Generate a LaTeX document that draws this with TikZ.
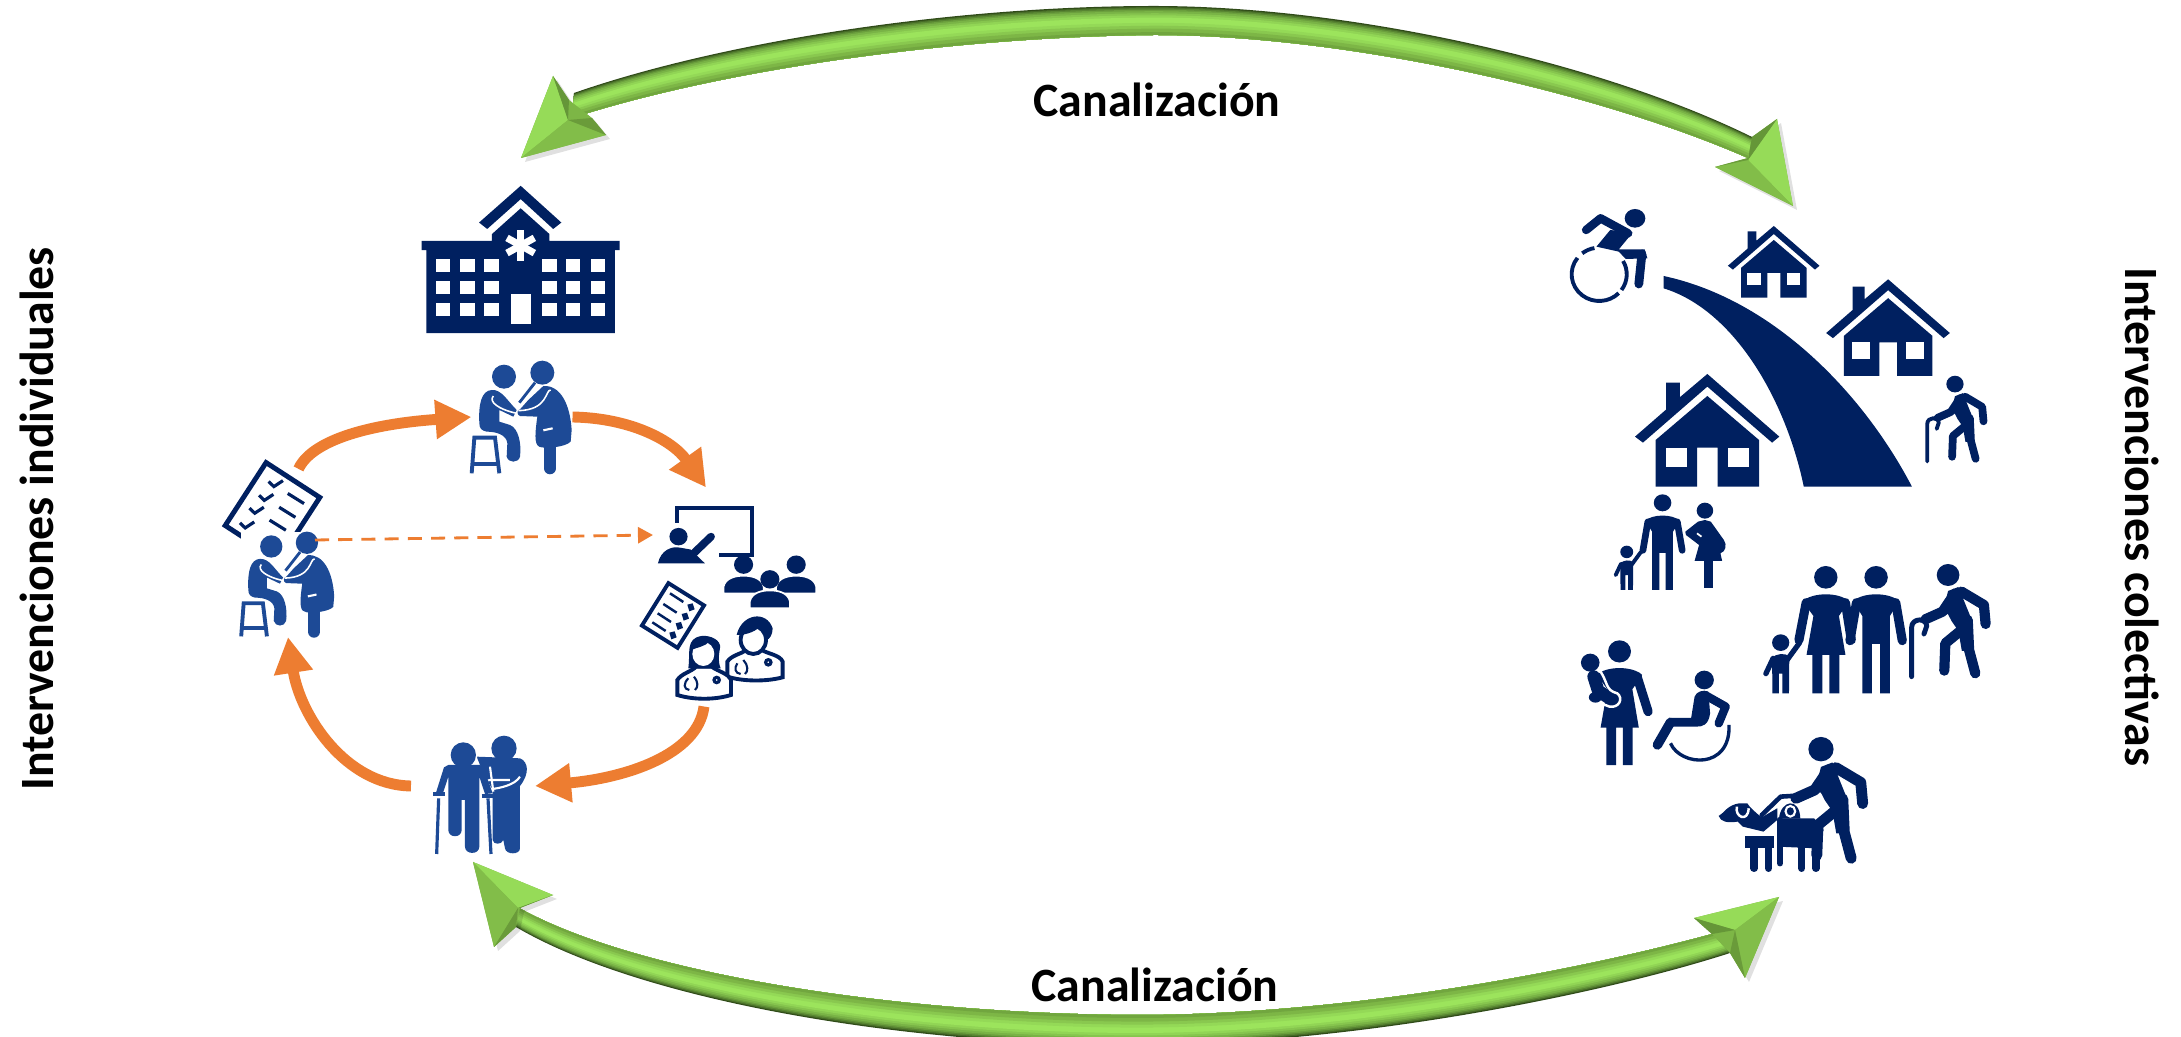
\documentclass[tikz,border=0pt]{standalone}
\usepackage{fontspec}
\setmainfont{Carlito}
\usetikzlibrary{arrows.meta, positioning, calc}
\definecolor{navyblue}{HTML}{002060}
\definecolor{docblue}{HTML}{1D4A96}
\definecolor{cycleorange}{HTML}{ED7D31}
\definecolor{gdark}{HTML}{2F4A18}
\definecolor{gmid}{HTML}{7DB646}
\definecolor{glight}{HTML}{9CE45C}

\tikzset{
  iconbox/.style={inner sep=0pt, outer sep=0pt},
  checkframe/.style={draw=navyblue, fill=white, line width=1.4pt, inner sep=0pt},
  limb/.style={draw=navyblue, line width=#1, line cap=round, line join=round},
  cyclearrow/.style={draw=cycleorange, line width=3.1pt, -{Triangle[length=.36cm,width=.37cm]}},
  dasharrow/.style={draw=cycleorange, line width=.8pt, dashed, dash pattern=on 4pt off 2.6pt, -{Triangle[length=.15cm,width=.16cm]}},
  sidelabel/.style={font=\fontsize{13.6}{13.6}\selectfont\bfseries, inner sep=0pt},
  canallabel/.style={font=\fontsize{13.6}{13.6}\selectfont\bfseries, inner sep=0pt},
  % icons, drawn in the units of their own crop
  pics/house/.style={code={
    \fill[navyblue] (0,0) -- (209,188) -- (188,206) -- (0,38) -- (-187,206) -- (-210,188) -- (-120,107) -- (-120,26) -- (-80,26) -- (-80,70) -- cycle;
    \fill[navyblue] (0,66) -- (150,198) -- (150,338) -- (30,338) -- (30,221) -- (-30,221) -- (-30,338) -- (-150,338) -- (-150,198) -- cycle;
    \fill[white] (-121,221) rectangle (-60,278);
    \fill[white] (60,221) rectangle (121,278);
  }},
  pics/manfig/.style={code={
    \fill[navyblue] (0,34) circle (34);
    \fill[navyblue] (-67,106) .. controls (-40,78) and (40,78) .. (67,106) -- (40,150) -- (40,382) -- (12,382) -- (12,234) -- (-12,234) -- (-12,382) -- (-40,382) -- (-40,150) -- cycle;
    \draw[limb=#1] (-57,110) -- (-76,224);
    \draw[limb=#1] (57,110) -- (76,224);
  }},
  pics/womanfig/.style={code={
    \fill[navyblue] (0,34) circle (34);
    \fill[navyblue] (-67,106) .. controls (-40,78) and (40,78) .. (67,106) -- (38,150) -- (57,267) -- (39,267) -- (39,382) -- (10,382) -- (10,267) -- (-10,267) -- (-10,382) -- (-39,382) -- (-39,267) -- (-56,267) -- (-36,150) -- cycle;
  }},
  pics/childfig/.style={code={
    \fill[navyblue] (0,25) circle (25);
    \fill[navyblue] (-25,72) .. controls (-15,56) and (15,56) .. (25,66) -- (24,177) -- (5,177) -- (5,118) -- (-5,118) -- (-5,177) -- (-24,177) -- cycle;
    \draw[limb=#1] (-22,72) -- (-43,118);
    \draw[limb=#1] (15,82) -- (55,25);
  }},
  pics/walkerfig/.style={code={
    \fill[navyblue] (0,32) circle (33);
    \fill[navyblue] (0,80) -- (30,68) -- (70,170) -- (72,260) -- (40,260) -- (30,200) -- (10,170) -- (0,150) -- (-15,142) -- cycle;
    \draw[limb=#1] (-66,165) -- (-16,142) -- (19,88);
    \draw[limb=#1] (39,82) -- (104,122) -- (109,179);
    \draw[limb=#1] (39,197) -- (-8,237) -- (-11,319);
    \draw[limb=#1] (57,167) -- (61,257) -- (79,327);
  }},
  pics/canefig/.style={code={
    \draw[limb=#1] (-106,337) -- (-106,190) .. controls (-106,160) and (-62,160) .. (-62,185) -- (-70,209);
  }},
  pics/doctorpair/.style={code={
    \begin{scope}[shift={(-186,-171)}]
      \fill[white] (33,3) rectangle (340,342);
      % patient and stool
      \fill[docblue] (132,50) circle (36);
      \fill[docblue] (58,190) .. controls (55,130) and (65,92) .. (95,90) .. controls (125,88) and (140,120) .. (170,150) -- (160,170) -- (118,150) -- (118,185) -- (150,195) .. controls (175,205) and (185,250) .. (180,290) .. controls (175,310) and (145,310) .. (140,290) -- (142,250) .. controls (140,225) and (110,215) .. (80,215) .. controls (65,212) and (58,205) .. (58,190) -- cycle;
      \draw[white, line width=.45pt] (100,108) .. controls (85,125) and (115,148) .. (170,160);
      \draw[docblue, line width=1.1pt] (35,340) -- (43,233) -- (105,233) -- (118,340);
      \draw[docblue, line width=1.1pt] (42,313) -- (110,313);
      % doctor
      \fill[docblue] (247,38) circle (36);
      \draw[docblue, line width=.8pt] (225,68) -- (178,128);
      \fill[docblue] (205,120) -- (250,78) .. controls (300,75) and (330,130) .. (335,210) -- (332,245) .. controls (315,262) and (260,265) .. (245,262) .. controls (225,260) and (222,240) .. (232,170) -- (180,168) .. controls (170,165) and (170,150) .. (180,148) -- cycle;
      \draw[docblue, line width=3.4pt, line cap=round] (270,262) -- (270,325);
      \draw[white, line width=.45pt] (272,90) .. controls (255,90) and (265,150) .. (175,152);
      \draw[white, line width=.6pt] (250,211) -- (278,205);
    \end{scope}
  }}
}

% bevelled green shaft between the two-part curves oa..of and ia..if
\newcommand{\bevelshaft}{
  \foreach \t/\c in {0/gdark, .04/glight!20!gdark, .08/glight!38!gdark, .13/glight!55!gdark, .18/glight!68!gdark, .25/glight!80!gdark, .32/glight!90!gdark, .4/glight, .58/glight!75!gmid, .68/glight!40!gmid, .78/gmid, .9/gmid!85!gdark} {
    \fill[fill=\c] ($(oa)!\t!(ia)$) .. controls ($(ob)!\t!(ib)$) and ($(oc)!\t!(ic)$) .. ($(om)!\t!(im)$) .. controls ($(od)!\t!(id)$) and ($(oe)!\t!(ie)$) .. ($(of)!\t!(if)$) -- (if) .. controls (ie) and (id) .. (im) .. controls (ic) and (ib) .. (ia) -- cycle;
  }
}
% bevelled head: tip, corner, notch, notch, corner, middle
\newcommand{\bevelhead}[6]{
  \fill[black, opacity=.12] ($#1+(4,4)$) -- ($#2+(4,4)$) -- ($#3+(4,4)$) -- ($#4+(4,4)$) -- ($#5+(4,4)$) -- cycle;
  \fill[gmid] #1 -- #2 -- #3 -- #4 -- #5 -- cycle;
  \fill[glight!80!gmid] #1 -- #2 -- #6 -- cycle;
  \fill[gmid!85!glight] #1 -- #5 -- #6 -- cycle;
  \fill[gmid!70!gdark] #2 -- #3 -- #6 -- cycle;
  \fill[gmid!75!gdark] #5 -- #4 -- #6 -- cycle;
}

\begin{document}
\begin{tikzpicture}[x=0.01cm, y=-0.01cm]
  \clip (0,0) rectangle (2181,1037);
  \fill[white] (0,0) rectangle (2181,1037);

  % Icon zones, the cycle runs through them
  \node[iconbox, minimum width=1.01cm, minimum height=1.13cm] (doctora) at (522,417) {};
  \node[iconbox, minimum width=.94cm, minimum height=1.06cm] (doctorb) at (288,584) {};
  \node[iconbox, minimum width=1.06cm, minimum height=.95cm] (teacher) at (706,535) {};
  \node[iconbox, minimum width=.57cm, minimum height=1.13cm] (staff) at (704,650) {};
  \node[iconbox, minimum width=1.24cm, minimum height=1.32cm] (elder) at (473,786) {};
  \coordinate (dashstart) at (315,540);

  % Hospital, first checklist, teacher and students (left crop)
  \begin{scope}[shift={(150,150)}, xscale=.4783, yscale=.4592]
    \fill[navyblue] (775,78) -- (860,158) -- (843,172) -- (775,107) -- (705,172) -- (688,158) -- cycle;
    \fill[navyblue] (578,218) -- (568,218) -- (568,198) -- (715,198) -- (715,183) -- (775,127) -- (835,183) -- (835,198) -- (982,198) -- (982,218) -- (972,218) -- (972,399) -- (578,399) -- cycle;
    \foreach \wx in {598,649,699,820,870,921} {
      \foreach \wy in {237,285,333} {
        \fill[white] (\wx,\wy) rectangle +(30,28);
      }
    }
    \fill[white] (755,313) rectangle (796,380);
    \foreach \a in {90,30,-30} {
      \draw[white, line width=2pt] (775,208) +(\a:33) -- +(\a+180:33);
    }
  \end{scope}

  \node[checkframe, minimum width=.64cm, minimum height=.75cm, rotate=-33] (checka) at (272.5,511.5) {};
  \begin{scope}[shift={(150,150)}, xscale=.4783, yscale=.4592]
    \foreach \cx/\cy in {248/722, 228/752, 208/780, 188/812} {
      \draw[navyblue, line width=.9pt] (\cx,\cy) -- +(11,11) -- +(30,-2);
    }
    \foreach \dx/\dy in {288/748, 270/778, 250/806} {
      \draw[navyblue, line width=.9pt] (\dx,\dy) -- +(34,22);
    }
    % teacher
    \draw[navyblue, line width=1.25pt] (1102,812) -- (1102,780) -- (1258,780) -- (1258,882) -- (1190,882);
    \fill[navyblue] (1105,842) circle (19);
    \fill[navyblue] (1062,900) .. controls (1068,872) and (1090,862) .. (1108,866) -- (1130,870) -- (1160,900) -- cycle;
    \draw[limb=2.2pt] (1130,885) -- (1173,842);
    % students
    \foreach \sx/\sy in {1241/903, 1351/903, 1296/935} {
      \fill[navyblue] (\sx,\sy) circle (20);
      \filldraw[fill=navyblue, draw=white, line width=.5pt] ({\sx-42},{\sy+63}) -- ({\sx-42},{\sy+48}) .. controls ({\sx-38},{\sy+28}) and ({\sx-15},{\sy+24}) .. (\sx,{\sy+24}) .. controls ({\sx+15},{\sy+24}) and ({\sx+38},{\sy+28}) .. ({\sx+42},{\sy+48}) -- ({\sx+42},{\sy+63}) -- cycle;
    }
  \end{scope}

  % Second checklist and the two physicians
  \node[checkframe, minimum width=.42cm, minimum height=.5cm, line width=1.1pt, rotate=-32] (checkb) at (673,615.5) {};
  \begin{scope}[shift={(620,560)}, scale=.3333]
    \foreach \lx/\ly/\qx/\qy in {150/100/212/142, 130/132/195/170, 113/160/177/198, 97/187/158/226} {
      \draw[navyblue, line width=.7pt] (\lx,\ly) -- +(40,26);
      \fill[navyblue] (\qx,\qy) +(-10,-8) -- +(6,-12) -- +(12,6) -- +(-4,12) -- cycle;
    }
    % man
    \filldraw[fill=white, draw=navyblue, line width=1.1pt] (322,350) -- (322,305) .. controls (335,285) and (365,282) .. (378,270) -- (425,270) .. controls (445,282) and (480,285) .. (488,305) -- (488,352) .. controls (440,365) and (370,365) .. (322,350) -- cycle;
    \filldraw[fill=white, draw=navyblue, line width=1.1pt] (400,240) ellipse (38 and 42);
    \fill[navyblue] (350,225) .. controls (365,160) and (440,150) .. (458,205) .. controls (458,225) and (448,238) .. (440,240) .. controls (438,215) and (425,205) .. (420,200) .. controls (400,220) and (370,225) .. (350,225) -- cycle;
    \draw[navyblue, line width=.6pt] (352,310) .. controls (342,325) and (345,340) .. (362,342);
    \draw[navyblue, line width=.6pt] (370,300) .. controls (385,315) and (385,335) .. (375,342);
    \filldraw[fill=white, draw=navyblue, line width=.9pt] (445,307) circle (8);
    % woman
    \filldraw[fill=white, draw=navyblue, line width=1.1pt] (172,405) -- (172,360) .. controls (185,340) and (215,335) .. (228,320) -- (275,320) .. controls (295,335) and (325,340) .. (333,360) -- (333,405) .. controls (285,420) and (220,420) .. (172,405) -- cycle;
    \fill[navyblue] (205,325) .. controls (212,280) and (195,235) .. (245,228) .. controls (270,225) and (305,240) .. (300,265) .. controls (295,290) and (295,310) .. (302,325) -- cycle;
    \fill[white] (250,282) ellipse (33 and 36);
    \fill[navyblue] (215,270) .. controls (230,262) and (255,260) .. (268,245) -- (245,235) -- (222,245) -- cycle;
    \draw[navyblue, line width=.6pt] (205,355) .. controls (190,370) and (190,388) .. (208,390);
    \draw[navyblue, line width=.6pt] (222,350) .. controls (235,365) and (235,382) .. (225,390);
    \filldraw[fill=white, draw=navyblue, line width=.9pt] (290,360) circle (8);
  \end{scope}

  % The doctor with the patient, twice
  \pic[scale=.3333] at (doctora.center) {doctorpair};
  \pic[scale=.31] at (doctorb.center) {doctorpair};

  % Old man and his helper
  \begin{scope}[shift={(420,730)}, scale=.3333]
    \fill[docblue] (252,55) circle (38);
    \fill[docblue] (170,80) -- (300,85) .. controls (325,95) and (330,130) .. (300,168) -- (300,355) .. controls (300,375) and (258,375) .. (255,355) -- (250,330) .. controls (245,345) and (220,345) .. (218,330) -- (218,180) -- (190,130) -- cycle;
    \draw[white, line width=.6pt] (300,140) .. controls (285,165) and (240,175) .. (208,178) .. controls (198,160) and (195,150) .. (210,150) -- (270,150);
    \fill[white] (130,75) circle (42);
    \fill[docblue] (130,75) circle (38);
    \draw[white, line width=.6pt] (210,110) -- (220,185);
    \fill[docblue] (85,105) -- (180,105) -- (190,112) -- (218,190) -- (195,192) -- (178,140) -- (178,350) .. controls (178,375) and (135,375) .. (135,350) -- (135,210) -- (125,210) -- (125,300) .. controls (125,325) and (85,325) .. (85,300) -- (85,140) -- (68,192) -- (48,188) -- (72,112) -- cycle;
    \draw[docblue, line width=.9pt] (40,192) -- (76,192);
    \draw[docblue, line width=.9pt] (185,198) -- (222,198);
    \draw[docblue, line width=.9pt] (56,205) -- (50,372);
    \draw[docblue, line width=.9pt] (204,205) -- (213,372);
  \end{scope}

  % Upper crop on the right: houses, road, wheelchair, old man with cane
  \begin{scope}[shift={(1500,180)}, xscale=.3444, yscale=.3333, transform shape]
    \pic[scale=1] at (602,582) {house};
    \pic[scale=.857] at (1127,298) {house};
    \pic[scale=.635] at (795,138) {house};
    \fill[navyblue] (475,288) -- (475,325) .. controls (680,390) and (830,660) .. (882,920) -- (1196,920) .. controls (1060,650) and (800,360) .. (475,288) -- cycle;
    \fill[navyblue] (392,115) ellipse (30 and 28);
    \draw[limb=2.4pt] (250,150) -- (292,115) -- (372,160);
    \fill[navyblue] (320,150) -- (385,158) -- (345,208) -- (420,208) -- (428,235) -- (365,237) -- (345,215) -- (280,200) -- cycle;
    \draw[limb=2.5pt] (412,222) -- (403,312);
    \draw[navyblue, line width=1.1pt] (288,283) ++(218:80) arc[start angle=218, end angle=45, radius=80];
    \draw[navyblue, line width=1.1pt] (288,283) ++(232:80) arc[start angle=232, end angle=260, radius=80];
    \draw[navyblue, line width=1.1pt] (288,283) ++(-30:80) arc[start angle=-30, end angle=36, radius=80];
    \pic[scale=.76] at (1321,588) {walkerfig=2.2pt};
    \pic[scale=.76] at (1321,588) {canefig=1.1pt};
  \end{scope}

  % Lower crop on the right: families and guide dog
  \begin{scope}[shift={(1500,480)}, xscale=.3444, yscale=.3333, transform shape]
    % small family
    \pic[scale=.75] at (472,43) {manfig=1.9pt};
    \pic[scale=.75] at (368,197) {childfig=1.1pt};
    \fill[navyblue] (595,92) circle (24);
    \fill[navyblue] (595,120) -- (612,125) -- (650,180) .. controls (660,195) and (655,215) .. (640,220) -- (645,243) -- (565,243) -- (578,195) -- (540,165) -- (538,155) -- (575,125) -- cycle;
    \draw[white, line width=.5pt] (572,160) -- (585,170);
    \fill[navyblue] (593,243) rectangle (617,325);
    % large family
    \pic[scale=1] at (946,258) {womanfig};
    \draw[limb=2.6pt] (889,368) -- (868,480);
    \draw[limb=2.6pt] (1003,368) -- (1020,480);
    \pic[scale=1] at (1092,258) {manfig=2.6pt};
    \pic[scale=1] at (815,463) {childfig=1.5pt};
    \pic[scale=1] at (1301,253) {walkerfig=2.9pt};
    \pic[scale=1] at (1301,253) {canefig=1.4pt};
    % mother with a baby on her back
    \pic[scale=.98] at (347,481) {womanfig};
    \draw[limb=2.6pt] (398,590) -- (430,695);
    \fill[navyblue] (262,548) circle (27);
    \draw[limb=3.6pt] (272,590) -- (285,632) -- (325,660);
    \fill[navyblue] (277,652) ellipse (19 and 16);
    \draw[white, line width=.7pt] (290,572) .. controls (315,610) and (305,630) .. (340,640) .. controls (360,655) and (345,685) .. (318,680) -- (298,672);
    % wheelchair
    \fill[navyblue] (593,600) circle (28);
    \fill[navyblue] (565,650) .. controls (570,635) and (590,628) .. (605,635) -- (610,700) .. controls (605,735) and (590,740) .. (570,740) -- (495,740) -- (495,714) -- (555,714) -- cycle;
    \draw[limb=2.7pt] (495,727) -- (457,795);
    \draw[limb=2.4pt] (595,645) -- (655,680) -- (635,730);
    \draw[navyblue, line width=.95pt] (495,790) .. controls (525,860) and (670,870) .. (665,735);
    % blind man and guide dog
    \pic[scale=1.11] at (932,772) {walkerfig=3.1pt};
    \draw[limb=1.3pt] (760,1005) -- (815,950) -- (895,945);
    \fill[navyblue] (635,1008) .. controls (650,1000) and (660,975) .. (695,970) -- (718,970) -- (725,980) -- (745,1000) -- (760,1012) -- (805,985) -- (805,1020) -- (765,1055) -- (705,1040) -- (690,1025) .. controls (660,1030) and (640,1025) .. (635,1008) -- cycle;
    \draw[white, line width=.7pt] (688,980) .. controls (680,1010) and (720,1030) .. (722,985);
    \fill[navyblue] (712,1068) -- (795,1068) -- (795,1105) -- (712,1105) -- cycle;
    \fill[navyblue] (805,1015) -- (912,1015) -- (940,1050) -- (915,1105) -- (805,1100) -- cycle;
    \foreach \lx in {738,780,876,917} {
      \draw[limb=2.1pt] (\lx,1095) -- (\lx,1165);
    }
    \draw[limb=1.8pt] (813,1020) -- (813,1150);
    \fill[navyblue] (810,1016) .. controls (815,960) and (870,950) .. (872,1016) -- cycle;
    \draw[white, line width=.6pt] (843,994) ellipse (14 and 16);
  \end{scope}

  % Orange cycle
  \draw[cyclearrow, shorten <=.1cm] (checka.north) .. controls (312,440) and (370,424) .. (doctora.west);
  \draw[cyclearrow] (doctora.east) .. controls (630,418) and (672,440) .. (teacher.north);
  \draw[cyclearrow] (staff.south) .. controls (698,755) and (625,778) .. (elder.east);
  \draw[cyclearrow] (elder.west) .. controls (345,785) and (300,715) .. (doctorb.south);
  \draw[dasharrow] (dashstart) -- (teacher.west);

  % Upper green arrow
  \coordinate (oa) at (574,93); \coordinate (ob) at (720,42); \coordinate (oc) at (950,6); \coordinate (om) at (1154,6);
  \coordinate (od) at (1350,6); \coordinate (oe) at (1600,62); \coordinate (of) at (1752,137);
  \coordinate (ia) at (572,118); \coordinate (ib) at (720,70); \coordinate (ic) at (950,37); \coordinate (im) at (1154,35);
  \coordinate (id) at (1350,35); \coordinate (ie) at (1600,93); \coordinate (if) at (1748,158);
  \bevelshaft
  \bevelhead{(521,158)}{(553,76)}{(569,100)}{(592,118)}{(606,135)}{(568,120)}
  \bevelhead{(1793,206)}{(1777,119)}{(1752,137)}{(1748,158)}{(1715,167)}{(1748,160)}

  % Lower green arrow
  \coordinate (oa) at (516,927); \coordinate (ob) at (640,1000); \coordinate (oc) at (900,1045); \coordinate (om) at (1136,1045);
  \coordinate (od) at (1350,1045); \coordinate (oe) at (1600,995); \coordinate (of) at (1730,953);
  \coordinate (ia) at (519,908); \coordinate (ib) at (640,975); \coordinate (ic) at (900,1014); \coordinate (im) at (1136,1015);
  \coordinate (id) at (1350,1015); \coordinate (ie) at (1580,970); \coordinate (if) at (1712,934);
  \bevelshaft
  \bevelhead{(473,862)}{(553,895)}{(520,908)}{(516,927)}{(494,947)}{(518,908)}
  \bevelhead{(1779,897)}{(1694,918)}{(1712,934)}{(1730,953)}{(1745,978)}{(1735,930)}

  % Labels
  \node[canallabel] (canaltop) at (1157,100) {Canalización};
  \node[canallabel] (canalbottom) at (1155,985) {Canalización};
  \node[sidelabel, rotate=90] (leftlabel) at (37,519) {Intervenciones individuales};
  \node[sidelabel, rotate=-90] (rightlabel) at (2142,517) {Intervenciones colectivas};
\end{tikzpicture}
\end{document}
